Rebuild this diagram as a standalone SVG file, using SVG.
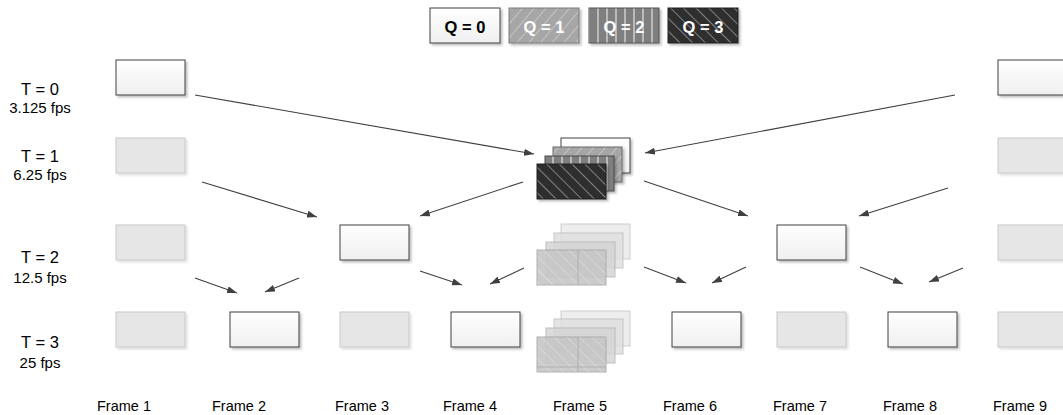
<svg xmlns="http://www.w3.org/2000/svg" width="1063" height="415" viewBox="0 0 1063 415">
<style>
  .lbl{font-family:"Liberation Sans",Arial,sans-serif;fill:#000}
  .t{font-size:16.5px;text-anchor:middle}
  .fps{font-size:15px;text-anchor:middle}
  .fr{font-size:14.5px}
  .q{font-size:16.5px;font-weight:bold;text-anchor:middle}
  .w{fill:url(#gW);stroke:#404040;stroke-width:1;filter:url(#sh)}
  .g{fill:#e6e6e6;stroke:#c8c8c8;stroke-width:1;filter:url(#sh2)}
  .conn line{stroke:#404040;stroke-width:1.1;marker-end:url(#ah)}
  .f0{fill:#ebebeb;stroke:#c6c6c6;opacity:0.85}
  .f1{fill:#e0e0e0;stroke:#bdbdbd;opacity:0.85}
  .f2{fill:#d5d5d5;stroke:#b4b4b4;opacity:0.85}
  .f3{fill:#c6c6c6;stroke:#a6a6a6;opacity:0.9}
</style>
<defs>
  <linearGradient id="gW" x1="0" y1="0" x2="0" y2="1">
    <stop offset="0" stop-color="#ffffff"/>
    <stop offset="1" stop-color="#efefef"/>
  </linearGradient>
  <filter id="sh" x="-10%" y="-10%" width="130%" height="140%">
    <feDropShadow dx="2" dy="2" stdDeviation="1" flood-color="#000" flood-opacity="0.25"/>
  </filter>
  <filter id="sh2" x="-10%" y="-10%" width="130%" height="140%">
    <feDropShadow dx="2" dy="2" stdDeviation="1" flood-color="#000" flood-opacity="0.12"/>
  </filter>
  <pattern id="p1" patternUnits="userSpaceOnUse" width="9" height="9" patternTransform="rotate(40)">
    <rect width="9" height="9" fill="#a6a6a6"/>
    <line x1="0" y1="0" x2="0" y2="9" stroke="#d9d9d9" stroke-width="1.2"/>
  </pattern>
  <pattern id="p2" patternUnits="userSpaceOnUse" width="9" height="9">
    <rect width="9" height="9" fill="#7f7f7f"/>
    <line x1="4" y1="0" x2="4" y2="9" stroke="#ececec" stroke-width="1.1"/>
  </pattern>
  <pattern id="p3" patternUnits="userSpaceOnUse" width="9" height="9" patternTransform="rotate(-45)">
    <rect width="9" height="9" fill="#2f2f2f"/>
    <line x1="0" y1="0" x2="0" y2="9" stroke="#d0d0d0" stroke-width="1"/>
  </pattern>
  <pattern id="pf" patternUnits="userSpaceOnUse" width="9" height="9" patternTransform="rotate(-45)">
    <line x1="0" y1="0" x2="0" y2="9" stroke="#ffffff" stroke-opacity="0.5" stroke-width="1"/>
  </pattern>
  <marker id="ah" viewBox="0 0 10 7" refX="10" refY="3.5" markerWidth="10" markerHeight="7" markerUnits="userSpaceOnUse" orient="auto">
    <path d="M0,0 L10,3.5 L0,7 z" fill="#404040"/>
  </marker>
</defs>
<rect width="1063" height="415" fill="#ffffff"/>

<g id="legend">
  <rect x="430" y="8" width="70" height="35" class="w"/>
  <text x="465" y="33" class="lbl q">Q = 0</text>
  <rect x="509" y="8" width="70" height="35" fill="url(#p1)" stroke="#7a7a7a" filter="url(#sh)"/>
  <text x="544" y="33" class="lbl q" style="fill:#ffffff">Q = 1</text>
  <rect x="589" y="8" width="70" height="35" fill="url(#p2)" stroke="#555555" filter="url(#sh)"/>
  <text x="624" y="33" class="lbl q" style="fill:#ffffff">Q = 2</text>
  <rect x="668" y="8" width="70" height="35" fill="url(#p3)" stroke="#222222" filter="url(#sh)"/>
  <text x="703" y="33" class="lbl q" style="fill:#ffffff">Q = 3</text>
</g>

<g id="row-labels">
  <text x="40" y="95" class="lbl t">T = 0</text>
  <text x="40" y="113" class="lbl fps">3.125 fps</text>
  <text x="40" y="162" class="lbl t">T = 1</text>
  <text x="40" y="180" class="lbl fps">6.25 fps</text>
  <text x="40" y="263" class="lbl t">T = 2</text>
  <text x="40" y="283" class="lbl fps">12.5 fps</text>
  <text x="40" y="348" class="lbl t">T = 3</text>
  <text x="40" y="368" class="lbl fps">25 fps</text>
</g>

<g id="frame-labels">
  <text x="97" y="411" class="lbl fr">Frame 1</text>
  <text x="212" y="411" class="lbl fr">Frame 2</text>
  <text x="335" y="411" class="lbl fr">Frame 3</text>
  <text x="443" y="411" class="lbl fr">Frame 4</text>
  <text x="553" y="411" class="lbl fr">Frame 5</text>
  <text x="663" y="411" class="lbl fr">Frame 6</text>
  <text x="773" y="411" class="lbl fr">Frame 7</text>
  <text x="883" y="411" class="lbl fr">Frame 8</text>
  <text x="993" y="411" class="lbl fr">Frame 9</text>
</g>

<g id="f1-t0"><rect x="116" y="60" width="69" height="35" class="w"/></g>
<g id="f9-t0"><rect x="998" y="60" width="69" height="35" class="w"/></g>
<g id="f1-t1"><rect x="116" y="138" width="69" height="35" class="g"/></g>
<g id="f9-t1"><rect x="998" y="138" width="69" height="35" class="g"/></g>
<g id="f1-t2"><rect x="116" y="225" width="69" height="35" class="g"/></g>
<g id="f3-t2"><rect x="340" y="225" width="69" height="35" class="w"/></g>
<g id="f7-t2"><rect x="777" y="225" width="69" height="35" class="w"/></g>
<g id="f9-t2"><rect x="998" y="225" width="69" height="35" class="g"/></g>
<g id="f1-t3"><rect x="116" y="312" width="69" height="35" class="g"/></g>
<g id="f2-t3"><rect x="230" y="312" width="69" height="35" class="w"/></g>
<g id="f3-t3"><rect x="340" y="312" width="69" height="35" class="g"/></g>
<g id="f4-t3"><rect x="451" y="312" width="69" height="35" class="w"/></g>
<g id="f6-t3"><rect x="672" y="312" width="69" height="35" class="w"/></g>
<g id="f7-t3"><rect x="777" y="312" width="69" height="35" class="g"/></g>
<g id="f8-t3"><rect x="888" y="312" width="69" height="35" class="w"/></g>
<g id="f9-t3"><rect x="998" y="312" width="69" height="35" class="g"/></g>

<g id="f5-t1">
  <rect x="561" y="138" width="69" height="35" class="w"/>
  <rect x="553" y="147" width="69" height="35" fill="url(#p1)" stroke="#6a6a6a" filter="url(#sh)"/>
  <rect x="545" y="156" width="69" height="35" fill="url(#p2)" stroke="#4a4a4a" filter="url(#sh)"/>
  <rect x="537" y="164" width="69" height="35" fill="url(#p3)" stroke="#222222" filter="url(#sh)"/>
</g>

<g id="f5-t2">
  <rect x="561" y="224" width="69" height="35" class="f0"/>
  <rect x="554" y="233" width="69" height="35" class="f1"/>
  <rect x="546" y="242" width="69" height="35" class="f2"/>
  <rect x="537" y="250" width="69" height="35" class="f3"/>
  <rect x="537" y="250" width="69" height="35" fill="url(#pf)"/>
  <line x1="578" y1="250" x2="578" y2="285" stroke="#a8a8a8" stroke-width="0.8"/>
</g>

<g id="f5-t3">
  <rect x="561" y="311" width="69" height="35" class="f0"/>
  <rect x="554" y="319" width="69" height="35" class="f1"/>
  <rect x="546" y="328" width="69" height="35" class="f2"/>
  <rect x="537" y="337" width="69" height="35" class="f3"/>
  <rect x="537" y="337" width="69" height="35" fill="url(#pf)"/>
  <line x1="578" y1="337" x2="578" y2="372" stroke="#a8a8a8" stroke-width="0.8"/>
  <line x1="537" y1="367" x2="606" y2="367" stroke="#a8a8a8" stroke-width="0.8"/>
</g>

<g id="connectors" class="conn">
  <line x1="195" y1="95" x2="534" y2="154"/>
  <line x1="955" y1="95" x2="645" y2="153"/>
  <line x1="202" y1="182" x2="317" y2="217"/>
  <line x1="523" y1="182" x2="420" y2="216"/>
  <line x1="644" y1="181" x2="748" y2="216"/>
  <line x1="948" y1="188" x2="859" y2="216"/>
  <line x1="195" y1="278" x2="237" y2="293"/>
  <line x1="299" y1="278" x2="265" y2="292"/>
  <line x1="420" y1="271" x2="462" y2="285"/>
  <line x1="524" y1="268" x2="490" y2="284"/>
  <line x1="644" y1="267" x2="686" y2="283"/>
  <line x1="746" y1="267" x2="712" y2="283"/>
  <line x1="860" y1="267" x2="903" y2="284"/>
  <line x1="963" y1="268" x2="929" y2="282"/>
</g>
</svg>
